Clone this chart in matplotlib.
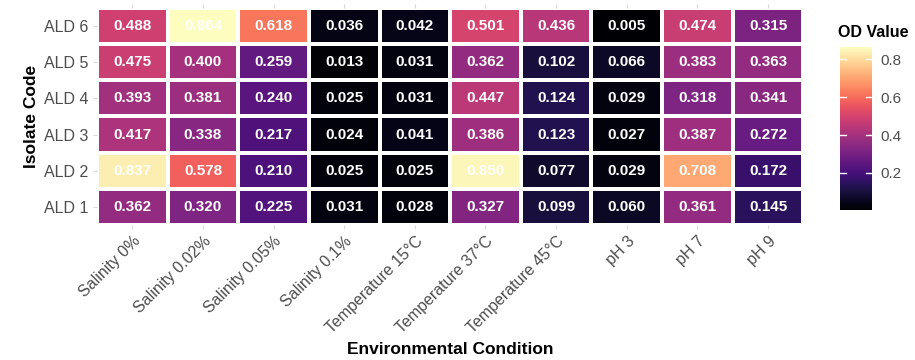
import matplotlib
matplotlib.use('Agg')
import matplotlib.pyplot as plt
import numpy as np

plt.rcParams['font.family'] = ['Liberation Sans', 'DejaVu Sans']

# Conditions (columns) and isolates (rows, bottom to top)
conditions = ['Salinity 0%', 'Salinity 0.02%', 'Salinity 0.05%', 'Salinity 0.1%',
              'Temperature 15°C', 'Temperature 37°C', 'Temperature 45°C',
              'pH 3', 'pH 7', 'pH 9']
isolates = ['ALD 1', 'ALD 2', 'ALD 3', 'ALD 4', 'ALD 5', 'ALD 6']

ald1 = [0.362, 0.320, 0.225, 0.031, 0.028, 0.327, 0.099, 0.060, 0.361, 0.145]
ald2 = [0.837, 0.578, 0.210, 0.025, 0.025, 0.850, 0.077, 0.029, 0.708, 0.172]
ald3 = [0.417, 0.338, 0.217, 0.024, 0.041, 0.386, 0.123, 0.027, 0.387, 0.272]
ald4 = [0.393, 0.381, 0.240, 0.025, 0.031, 0.447, 0.124, 0.029, 0.318, 0.341]
ald5 = [0.475, 0.400, 0.259, 0.013, 0.031, 0.362, 0.102, 0.066, 0.383, 0.363]
ald6 = [0.488, 0.864, 0.618, 0.036, 0.042, 0.501, 0.436, 0.005, 0.474, 0.315]

od = np.array([ald1, ald2, ald3, ald4, ald5, ald6])

fig = plt.figure(figsize=(9.15, 3.6), dpi=100)
ax = fig.add_axes([0.106, 0.375, 0.772, 0.603])

mesh = ax.pcolormesh(od, cmap='magma', vmin=od.min(), vmax=od.max(),
                     edgecolor='white', linewidth=1.5)

for i in range(od.shape[0]):
    for j in range(od.shape[1]):
        ax.text(j + 0.5, i + 0.5, f'{od[i, j]:.3f}', ha='center', va='center',
                color='white', fontsize=11, fontweight='bold')

ax.set_xlim(0, len(conditions))
ax.set_ylim(0, len(isolates))
ax.set_xticks(np.arange(len(conditions)) + 0.5)
ax.set_xticklabels(conditions, rotation=45, ha='right', rotation_mode='anchor',
                   fontsize=11.5, color='#4d4d4d')
ax.set_yticks(np.arange(len(isolates)) + 0.5)
ax.set_yticklabels(isolates, fontsize=11.5, color='#4d4d4d')
ax.tick_params(length=3, color='#d9d9d9', top=True, pad=3)
for s in ax.spines.values():
    s.set_visible(False)

ax.set_xlabel('Environmental Condition', fontsize=12.5, fontweight='bold', labelpad=4)
ax.set_ylabel('Isolate Code', fontsize=12.5, fontweight='bold', labelpad=4)

cax = fig.add_axes([0.918, 0.417, 0.035, 0.452])
cb = fig.colorbar(mesh, cax=cax, ticks=[0.2, 0.4, 0.6, 0.8])
cb.outline.set_visible(False)
cb.ax.tick_params(length=0, labelsize=11, labelcolor='#4d4d4d', pad=6)
for t in [0.2, 0.4, 0.6, 0.8]:
    cax.plot([0, 0.2], [t, t], color='white', lw=1, transform=cax.get_yaxis_transform())
    cax.plot([0.8, 1], [t, t], color='white', lw=1, transform=cax.get_yaxis_transform())
fig.text(0.916, 0.89, 'OD Value', fontsize=11.5, fontweight='bold', ha='left', va='bottom')

fig.savefig('out.png', dpi=100)
